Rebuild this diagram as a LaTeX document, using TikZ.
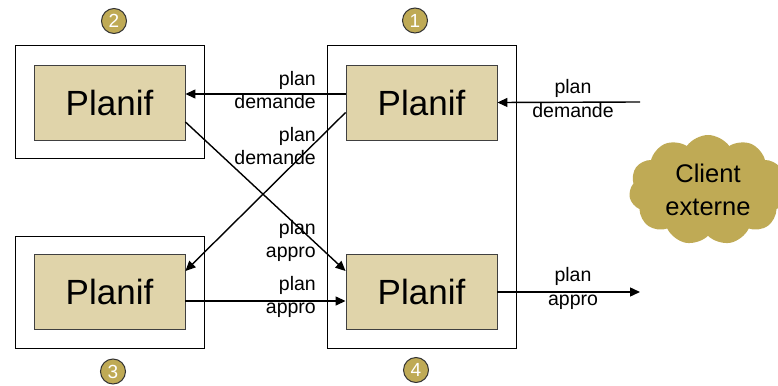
\documentclass[tikz,border=0pt]{standalone}
\usepackage{fontspec}
\setmainfont{Liberation Sans}
\usetikzlibrary{shapes.symbols,arrows.meta,positioning}
\definecolor{planfill}{HTML}{E0D4AA}
\definecolor{olive}{HTML}{BFAA55}
\tikzset{
  frame/.style={draw=black,line width=0.9pt,minimum width=189pt,inner sep=0pt},
  planif/.style={draw=black!75,fill=planfill,line width=0.9pt,minimum width=151pt,minimum height=75pt,inner sep=0pt,font=\fontsize{35}{40}\selectfont},
  num/.style={circle,draw=black!80,fill=olive,line width=1pt,minimum size=25pt,inner sep=0pt,text=white,font=\fontsize{19}{19}\selectfont},
  lab/.style={align=right,anchor=east,inner sep=0pt,font=\fontsize{19.5}{22.5}\selectfont},
  labc/.style={align=center,inner sep=0pt,font=\fontsize{19.5}{24}\selectfont},
  flow/.style={line width=1.4pt,-{Triangle[length=10pt,width=9pt]}}
}
\begin{document}
\begin{tikzpicture}[x=1pt,y=-1pt]
\useasboundingbox (0,0) rectangle (778,385);
% outer frames
\node[frame,minimum height=113pt] (f2) at (109.5,101.5) {};
\node[frame,minimum height=112pt] (f3) at (109.5,292) {};
\node[frame,minimum height=303pt] (f14) at (422,196.5) {};
% inner boxes
\node[planif] (tl) at (109.5,102.5) {Planif};
\node[planif] (bl) at (109.5,292) {Planif};
\node[planif] (tr) at (421.5,102.5) {Planif};
\node[planif] (br) at (421.5,292) {Planif};
% numbers
\node[num] (n2) at (114,21) {2};
\node[num] (n1) at (415,20.5) {1};
\node[num] (n3) at (113,371.5) {3};
\node[num] (n4) at (416,370) {4};
% cloud
\node[cloud,cloud puffs=11,cloud puff arc=110,aspect=1.4,fill=olive,draw=none,minimum width=158pt,minimum height=110pt,align=center,inner sep=0pt,font=\fontsize{25.5}{33}\selectfont] (cl) at (708,190) {Client\\externe};
% external coordinates
\coordinate (inR) at (640,102);
\coordinate (outR) at (640,292);
% arrows
\draw[flow] ([yshift=8.5pt]tr.west) -- ([yshift=8.5pt]tl.east);
\draw[flow] (inR) -- (tr.east);
\draw[flow] ([yshift=-19.5pt]tl.east) -- ([yshift=21pt]br.west);
\draw[flow] ([yshift=-10pt]tr.west) -- ([yshift=21pt]bl.east);
\draw[flow] ([yshift=-9pt]bl.east) -- ([yshift=-9pt]br.west);
\draw[flow] (br.east) -- (outR);
% labels
\node[lab] (l1) at (316,90) {plan\\demande};
\node[lab] (l2) at (316,146) {plan\\demande};
\node[lab] (l3) at (316,241) {plan\\appro};
\node[lab] (l4) at (316,297) {plan\\appro};
\node[labc] (l5) at (573,99) {plan\\demande};
\node[labc] (l6) at (573,288) {plan\\appro};
\end{tikzpicture}
\end{document}
